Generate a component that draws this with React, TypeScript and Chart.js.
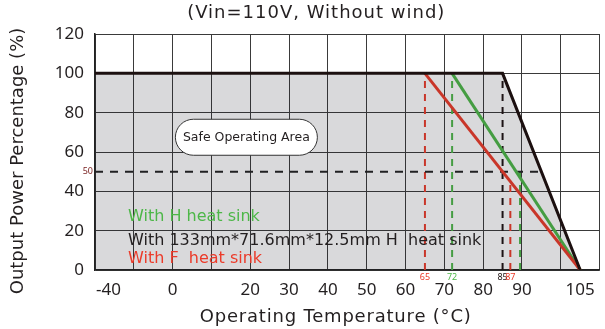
import React, { useEffect, useRef } from "react";
import { Chart, registerables } from "chart.js";

Chart.register(...registerables);

// ---------- text ----------
const chartTitle = "(Vin=110V, Without wind)";
const xAxisTitle = "Operating Temperature (°C)";
const yAxisTitle = "Output Power Percentage (%)";
const safeAreaLabel = "Safe Operating Area";
const legendTexts = [
  "With H heat sink",
  "With 133mm*71.6mm*12.5mm H  heat sink",
  "With F  heat sink",
];

// ---------- axes (broken temperature axis: -40 squeezed to the left) ----------
const xMin = -20;
const xMax = 110;
const xGridStep = 10;
const xTickValues = [-16.5, 0, 20, 30, 40, 50, 60, 70, 80, 90, 105];
const xTickLabels = ["-40", "0", "20", "30", "40", "50", "60", "70", "80", "90", "105"];
const yMin = 0;
const yMax = 120;
const yStep = 20;

// ---------- derating curves ----------
const blackTemps = [-20, 85, 105];
const blackPower = [100, 100, 0];
const greenTemps = [72, 105];
const greenPower = [100, 0];
const redTemps = [65, 105];
const redPower = [100, 0];

// ---------- dashed guide lines ----------
const markerTemps = [65, 72, 85, 87, 89.5];
const markerTops = [100, 100, 100, 45, 50];
const markerSeries = ["F", "H", "B", "F", "H"];
const markerLabels = ["65", "72", "85", "87", ""];
const halfPowerLevel = 50;
const halfPowerEnd = 95;
const halfPowerLabel = "50";

const COLORS: Record<string, string> = {
  F: "#ec3b2a",
  H: "#4db748",
  B: "#1c1010",
};
const TEXT = "#231f20";
const FONT = "'Noto Sans', sans-serif";
const WIDE = "'DejaVu Sans', sans-serif";

const pts = (xs: number[], ys: number[]) => xs.map((x, i) => ({ x, y: ys[i] }));

export default function App() {
  const ref = useRef<HTMLCanvasElement | null>(null);

  useEffect(() => {
    document.body.style.margin = "0";
    const canvas = ref.current;
    if (!canvas) return;

    const markerDatasets = markerTemps.map((t, i) => ({
      type: "line" as const,
      data: [
        { x: t, y: 0 },
        { x: t, y: markerTops[i] },
      ],
      borderColor: COLORS[markerSeries[i]],
      borderWidth: 2,
      borderDash: [7, 6],
      pointRadius: 0,
      fill: false,
      order: 5,
    }));

    const textPlugin = {
      id: "texts",
      afterDraw(chart: any) {
        const ctx = chart.ctx;
        const xs = chart.scales.x;
        const ys = chart.scales.y;
        const area = chart.chartArea;
        ctx.save();

        // title
        ctx.fillStyle = TEXT;
        ctx.font = `18px ${WIDE}`;
        ctx.textAlign = "center";
        ctx.textBaseline = "middle";
        ctx.letterSpacing = "1px";
        ctx.fillText(chartTitle, xs.getPixelForValue(37), 13);

        // x axis title
        ctx.letterSpacing = "0.8px";
        ctx.fillText(xAxisTitle, xs.getPixelForValue(42), 317);
        ctx.letterSpacing = "0px";

        // y axis title
        ctx.save();
        ctx.translate(18, (area.top + area.bottom) / 2 + 9);
        ctx.rotate(-Math.PI / 2);
        ctx.font = `18px ${WIDE}`;
        ctx.fillText(yAxisTitle, 0, 0);
        ctx.restore();

        // safe operating area pill
        const cx = xs.getPixelForValue(19);
        const cy = ys.getPixelForValue(67.5);
        const w = 142;
        const h = 36;
        const r = h / 2;
        ctx.beginPath();
        ctx.moveTo(cx - w / 2 + r, cy - h / 2);
        ctx.lineTo(cx + w / 2 - r, cy - h / 2);
        ctx.arc(cx + w / 2 - r, cy, r, -Math.PI / 2, Math.PI / 2);
        ctx.lineTo(cx - w / 2 + r, cy + h / 2);
        ctx.arc(cx - w / 2 + r, cy, r, Math.PI / 2, (3 * Math.PI) / 2);
        ctx.closePath();
        ctx.fillStyle = "#ffffff";
        ctx.fill();
        ctx.strokeStyle = "#333333";
        ctx.lineWidth = 1;
        ctx.stroke();
        ctx.fillStyle = TEXT;
        ctx.font = `12.5px ${WIDE}`;
        ctx.fillText(safeAreaLabel, cx, cy);

        // legend texts
        ctx.textAlign = "left";
        ctx.font = `16px ${WIDE}`;
        const legendColors = [COLORS.H, TEXT, COLORS.F];
        const legendLevels = [27, 15, 5.5];
        legendTexts.forEach((t, i) => {
          ctx.fillStyle = legendColors[i];
          ctx.fillText(t, xs.getPixelForValue(-11.5), ys.getPixelForValue(legendLevels[i]));
        });

        // marker labels
        ctx.font = `9px ${FONT}`;
        ctx.textAlign = "center";
        markerTemps.forEach((t, i) => {
          if (!markerLabels[i]) return;
          ctx.fillStyle = COLORS[markerSeries[i]];
          ctx.fillText(markerLabels[i], xs.getPixelForValue(t), area.bottom + 7);
        });

        // 50 label
        ctx.fillStyle = "#7a2222";
        ctx.textAlign = "right";
        ctx.fillText(halfPowerLabel, area.left - 2, ys.getPixelForValue(halfPowerLevel));

        ctx.restore();
      },
    };

    const chart = new Chart(canvas, {
      type: "line",
      data: {
        datasets: [
          {
            data: pts(blackTemps, blackPower),
            borderColor: COLORS.B,
            borderWidth: 3,
            pointRadius: 0,
            fill: "origin",
            backgroundColor: "rgba(30,30,40,0.17)",
            order: 1,
          },
          {
            data: pts(redTemps, redPower),
            borderColor: COLORS.F,
            borderWidth: 3,
            pointRadius: 0,
            fill: false,
            order: 2,
          },
          {
            data: pts(greenTemps, greenPower),
            borderColor: COLORS.H,
            borderWidth: 3,
            pointRadius: 0,
            fill: false,
            order: 3,
          },
          {
            data: [
              { x: xMin, y: halfPowerLevel },
              { x: halfPowerEnd, y: halfPowerLevel },
            ],
            borderColor: "#222222",
            borderWidth: 2,
            borderDash: [8, 7],
            pointRadius: 0,
            fill: false,
            order: 4,
          },
          ...markerDatasets,
        ] as any,
      },
      options: {
        animation: false,
        responsive: false,
        maintainAspectRatio: false,
        layout: { padding: { top: 34, right: 3, left: 0, bottom: 0 } },
        plugins: {
          legend: { display: false },
          tooltip: { enabled: false },
          title: { display: false },
        },
        scales: {
          x: {
            type: "linear",
            position: "bottom",
            min: xMin,
            max: xMax,
            ticks: { display: false, stepSize: xGridStep },
            grid: { color: "#3a3a3a", lineWidth: 1, drawTicks: false },
            border: { color: "#222222", width: 1.5 },
            afterFit: (s: any) => {
              s.height = 0;
            },
          },
          xLabels: {
            type: "linear",
            position: "bottom",
            min: xMin,
            max: xMax,
            afterBuildTicks: (s: any) => {
              s.ticks = xTickValues.map((v) => ({ value: v }));
            },
            ticks: {
              autoSkip: false,
              maxRotation: 0,
              padding: 10,
              color: TEXT,
              font: { family: FONT, size: 17 },
              callback: (_v: any, i: number) => xTickLabels[i],
            },
            grid: { display: false, drawTicks: false },
            border: { display: false },
            title: { display: false },
            afterFit: (s: any) => {
              s.height = 59;
            },
          },
          y: {
            type: "linear",
            min: yMin,
            max: yMax,
            ticks: {
              stepSize: yStep,
              padding: 11,
              color: TEXT,
              font: { family: FONT, size: 17 },
            },
            grid: { color: "#3a3a3a", lineWidth: 1, drawTicks: false },
            border: { color: "#222222", width: 1.5 },
            title: { display: false },
            afterFit: (s: any) => {
              s.width = 95;
            },
          },
        },
      } as any,
      plugins: [textPlugin],
    });

    return () => chart.destroy();
  }, []);

  return (
    <div style={{ width: 605, height: 329 }}>
      <canvas ref={ref} width={605} height={329} style={{ width: 605, height: 329, display: "block" }} />
    </div>
  );
}
